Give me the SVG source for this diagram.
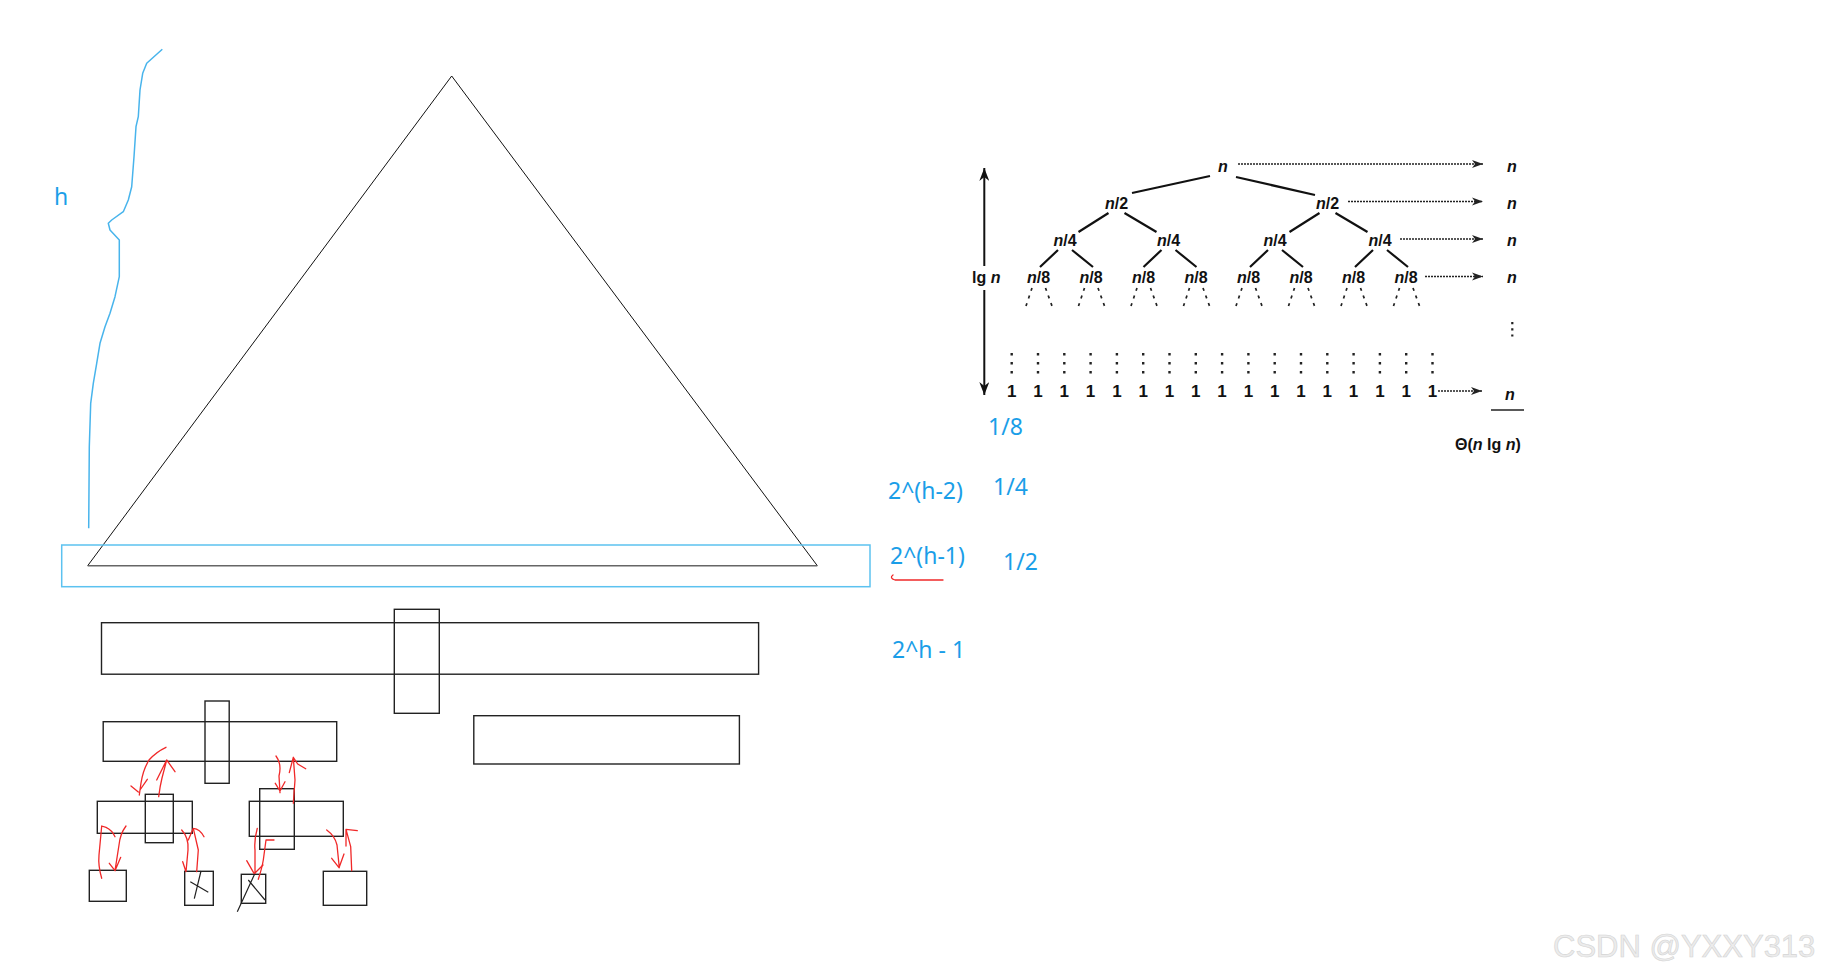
<svg xmlns="http://www.w3.org/2000/svg" width="1830" height="979" viewBox="0 0 1830 979">
<style>
.box{fill:none;stroke:#222;stroke-width:1.4}
.blue{fill:#1a9ee8;font-family:"Noto Sans","Open Sans",sans-serif;font-size:23px}
.red{fill:none;stroke:#f02828;stroke-width:1.3;stroke-linecap:round;stroke-linejoin:round}
.tl{fill:#111;font-family:"Liberation Sans",Arial,sans-serif;font-size:16px;font-weight:bold}
.one{fill:#111;font-family:"Liberation Sans",Arial,sans-serif;font-size:17px;font-weight:bold}
.tree{stroke:#111;stroke-width:2.2;fill:none}
.dots{stroke:#222;stroke-width:1.6;fill:none;stroke-dasharray:2 1}
.leg{stroke:#222;stroke-width:1.7;fill:none;stroke-dasharray:3 5}
.col{stroke:#222;stroke-width:2.4;fill:none;stroke-dasharray:2.4 6.6}
</style>
<defs>
<marker id="ah" markerWidth="12" markerHeight="10" refX="11" refY="5" orient="auto" markerUnits="userSpaceOnUse">
<path d="M0,1 L11,5 L0,9 L3,5 Z" fill="#222"/>
</marker>
<marker id="vh" markerWidth="14" markerHeight="10" refX="13" refY="5" orient="auto-start-reverse" markerUnits="userSpaceOnUse">
<path d="M0,0 L13,5 L0,10 L4,5 Z" fill="#111"/>
</marker>
</defs>
<rect width="1830" height="979" fill="#fff"/>

<g id="height-brace">
<path d="M162.3,49.3 L146.7,63.3 L142.7,73.3 L140,90 L138.3,116.7 L136,126.7 L134,156.7 L131.7,186.7 L128.3,200 L123.3,211.7 L111.7,220 L108.3,223.3 L110,230 L119.3,240 L119.3,276.7 L115,296.7 L110,313.3 L105,326.7 L100,343.3 L96.7,363.3 L93.3,383.3 L90.7,403.3 L89.3,446.7 L88.7,528.3" fill="none" stroke="#48b4ec" stroke-width="1.5" stroke-linejoin="round"/>
<text class="blue" x="54" y="205" font-size="22">h</text>
</g>

<g id="heap-triangle">
<path d="M451.7,76 L87.7,565.7" stroke="#111" stroke-width="1" fill="none"/>
<path d="M451.7,76 L817.3,565.7" stroke="#111" stroke-width="1" fill="none"/>
<path d="M87.7,565.7 L817.3,565.7" stroke="#666" stroke-width="1.6" fill="none"/>
</g>

<g id="bottom-level-highlight">
<rect x="61.7" y="545" width="808.3" height="41.7" fill="none" stroke="#5cc2f0" stroke-width="1.5"/>
</g>

<g id="labels">
<text class="blue" x="888" y="499">2^(h-2)</text>
<text class="blue" x="993" y="495">1/4</text>
<text class="blue" x="890" y="564">2^(h-1)</text>
<text class="blue" x="1003" y="570">1/2</text>
<text class="blue" x="892" y="658">2^h - 1</text>
<text class="blue" x="988" y="435">1/8</text>
<path class="red" d="M893,575 Q889,578 895,580 L943,580"/>
</g>

<g id="level-rects">
<rect class="box" x="101.5" y="622.7" width="657.1" height="51.5"/>
<rect class="box" x="394.3" y="609.3" width="45" height="104"/>
<rect class="box" x="103.2" y="721.7" width="233.5" height="39.6"/>
<rect class="box" x="205" y="701" width="24.2" height="82.3"/>
<rect class="box" x="473.8" y="715.7" width="265.6" height="48.3"/>
<rect class="box" x="97.3" y="801.3" width="95" height="32"/>
<rect class="box" x="145.3" y="794.3" width="28" height="48.4"/>
<rect class="box" x="249.3" y="801.3" width="94" height="35"/>
<rect class="box" x="259.7" y="788.7" width="34.6" height="60.6"/>
<rect class="box" x="89.3" y="870.3" width="37" height="31"/>
<rect class="box" x="184.7" y="871.3" width="28.6" height="34"/>
<rect class="box" x="241.3" y="874.3" width="24.4" height="29"/>
<rect class="box" x="323.3" y="871.3" width="43.4" height="34"/>
<path d="M201,871 L194.3,898.7 M190.3,881.7 L208.3,892.3" stroke="#222" stroke-width="1.2" fill="none"/>
<path d="M255,873.3 L237.3,911.7 M248.3,880 L265,900" stroke="#222" stroke-width="1.2" fill="none"/>
</g>

<g id="swap-arrows">
<path class="red" d="M166,747.3 Q156,752 149,760 Q143,770 141,783 L139.3,795 M131,786 L138.3,792 M147.3,779.3 L140,790"/>
<path class="red" d="M158.7,796.7 Q160,786 162,778 L166.7,760 M156.7,780 L166.7,760 L175,771.7"/>
<path class="red" d="M276,756 Q282,764 279,776 L280,792.7 M275.3,783.3 L280,791 M285,781.7 L280,791"/>
<path class="red" d="M293.3,803.3 L295,780 L293.3,757.3 L289.3,772.7 M293.3,757.3 L297.7,764 L305.7,768.7"/>
<path class="red" d="M101.7,878.3 Q98,866 99,855 L101.7,826 L106,827.3 Q112,830 115,836.7"/>
<path class="red" d="M126,826 Q120,834 119,845 L115,870.7 M109.3,863.3 L115,870.7 L120.7,857.3"/>
<path class="red" d="M181.7,830 Q189,838 188,850 L186,871.7 M182.7,861.7 L186,871.7"/>
<path class="red" d="M196.7,871.7 L198.3,850 L193.3,828.3 L188.3,840 M193.3,828.3 Q200,829 204,836.7"/>
<path class="red" d="M257.3,828.3 Q254,840 255,850 L255,873.3 M246.7,860.7 L254,873.3 M263,865 L255,873"/>
<path class="red" d="M258.3,879.3 Q262,868 263.3,860 L266,840 L274,840"/>
<path class="red" d="M326.7,830 Q335,836 337,845 L339.3,867.7 M331.7,858.3 L339,867.7 L344,854"/>
<path class="red" d="M351.7,870.7 L350.7,846.7 L346,829.3 L357.3,830.7 M346,829.3 L346,846"/>
</g>

<g id="recursion-tree">
<line x1="984.3" y1="168" x2="984.3" y2="266" stroke="#111" stroke-width="2" marker-start="url(#vh)"/>
<line x1="984.3" y1="290" x2="984.3" y2="395" stroke="#111" stroke-width="2" marker-end="url(#vh)"/>
<text class="tl" x="972" y="283">lg <tspan font-style="italic">n</tspan></text>

<text class="tl" x="1223" y="172" text-anchor="middle" font-style="italic">n</text>
<text class="tl" x="1116.5" y="209" text-anchor="middle"><tspan font-style="italic">n</tspan>/2</text>
<text class="tl" x="1327.5" y="209" text-anchor="middle"><tspan font-style="italic">n</tspan>/2</text>
<text class="tl" x="1065" y="246" text-anchor="middle"><tspan font-style="italic">n</tspan>/4</text>
<text class="tl" x="1168.5" y="246" text-anchor="middle"><tspan font-style="italic">n</tspan>/4</text>
<text class="tl" x="1275" y="246" text-anchor="middle"><tspan font-style="italic">n</tspan>/4</text>
<text class="tl" x="1380" y="246" text-anchor="middle"><tspan font-style="italic">n</tspan>/4</text>
<g text-anchor="middle">
<text class="tl" x="1038.5" y="283"><tspan font-style="italic">n</tspan>/8</text>
<text class="tl" x="1091" y="283"><tspan font-style="italic">n</tspan>/8</text>
<text class="tl" x="1143.5" y="283"><tspan font-style="italic">n</tspan>/8</text>
<text class="tl" x="1196" y="283"><tspan font-style="italic">n</tspan>/8</text>
<text class="tl" x="1248.5" y="283"><tspan font-style="italic">n</tspan>/8</text>
<text class="tl" x="1301" y="283"><tspan font-style="italic">n</tspan>/8</text>
<text class="tl" x="1353.5" y="283"><tspan font-style="italic">n</tspan>/8</text>
<text class="tl" x="1406" y="283"><tspan font-style="italic">n</tspan>/8</text>
</g>
<path class="tree" d="M1210,176 L1132,193 M1236,177 L1315,195
M1108.5,213 L1078.5,232 M1124.5,213 L1156.5,232
M1319.5,213 L1289.5,232 M1335.5,213 L1367.5,232
M1058,250 L1040,267 M1072,250 L1093,267
M1161.5,250 L1143.5,267 M1175.5,250 L1196.5,267
M1268,250 L1250,267 M1282,250 L1303,267
M1373,250 L1355,267 M1387,250 L1408,267"/>
<path class="leg" d="M1032,288 L1026,306 M1045.5,288 L1052,306
M1084.5,288 L1078.5,306 M1098,288 L1104.5,306
M1137,288 L1131,306 M1150.5,288 L1157,306
M1189.5,288 L1183.5,306 M1203,288 L1209.5,306
M1242,288 L1236,306 M1255.5,288 L1262,306
M1294.5,288 L1288.5,306 M1308,288 L1314.5,306
M1347,288 L1341,306 M1360.5,288 L1367,306
M1399.5,288 L1393.5,306 M1413,288 L1419.5,306"/>

<line class="dots" x1="1238" y1="164" x2="1483" y2="164" marker-end="url(#ah)"/>
<line class="dots" x1="1348" y1="201.5" x2="1483" y2="201.5" marker-end="url(#ah)"/>
<line class="dots" x1="1400" y1="239" x2="1483" y2="239" marker-end="url(#ah)"/>
<line class="dots" x1="1425" y1="276.5" x2="1483" y2="276.5" marker-end="url(#ah)"/>
<line class="dots" x1="1438" y1="391" x2="1482" y2="391" marker-end="url(#ah)"/>

<g font-style="italic">
<text class="tl" x="1512" y="172" text-anchor="middle">n</text>
<text class="tl" x="1512" y="209" text-anchor="middle">n</text>
<text class="tl" x="1512" y="246" text-anchor="middle">n</text>
<text class="tl" x="1512" y="283" text-anchor="middle">n</text>
<text class="tl" x="1510" y="400" text-anchor="middle">n</text>
</g>
<path d="M1512.3,322 L1512.3,338" stroke="#222" stroke-width="2.2" stroke-dasharray="2.2 4" fill="none"/>
<line x1="1491" y1="410" x2="1524" y2="410" stroke="#222" stroke-width="1.5"/>
<text class="tl" x="1455" y="450">Θ(<tspan font-style="italic">n</tspan> lg <tspan font-style="italic">n</tspan>)</text>

<path class="col" d="M1011.7,353 V376 M1038,353 V376 M1064.3,353 V376 M1090.6,353 V376 M1116.9,353 V376 M1143.2,353 V376 M1169.5,353 V376 M1195.8,353 V376 M1222.1,353 V376 M1248.4,353 V376 M1274.7,353 V376 M1301,353 V376 M1327.3,353 V376 M1353.6,353 V376 M1379.9,353 V376 M1406.2,353 V376 M1432.5,353 V376"/>
<g text-anchor="middle">
<text class="one" x="1011.7" y="397">1</text>
<text class="one" x="1038" y="397">1</text>
<text class="one" x="1064.3" y="397">1</text>
<text class="one" x="1090.6" y="397">1</text>
<text class="one" x="1116.9" y="397">1</text>
<text class="one" x="1143.2" y="397">1</text>
<text class="one" x="1169.5" y="397">1</text>
<text class="one" x="1195.8" y="397">1</text>
<text class="one" x="1222.1" y="397">1</text>
<text class="one" x="1248.4" y="397">1</text>
<text class="one" x="1274.7" y="397">1</text>
<text class="one" x="1301" y="397">1</text>
<text class="one" x="1327.3" y="397">1</text>
<text class="one" x="1353.6" y="397">1</text>
<text class="one" x="1379.9" y="397">1</text>
<text class="one" x="1406.2" y="397">1</text>
<text class="one" x="1432.5" y="397">1</text>
</g>
</g>

<g id="watermark">
<text x="1553" y="957" font-family="'Liberation Sans',Arial,sans-serif" font-size="31" fill="#ececec" stroke="#d4d4d4" stroke-width="0.6">CSDN @YXXY313</text>
</g>
</svg>
